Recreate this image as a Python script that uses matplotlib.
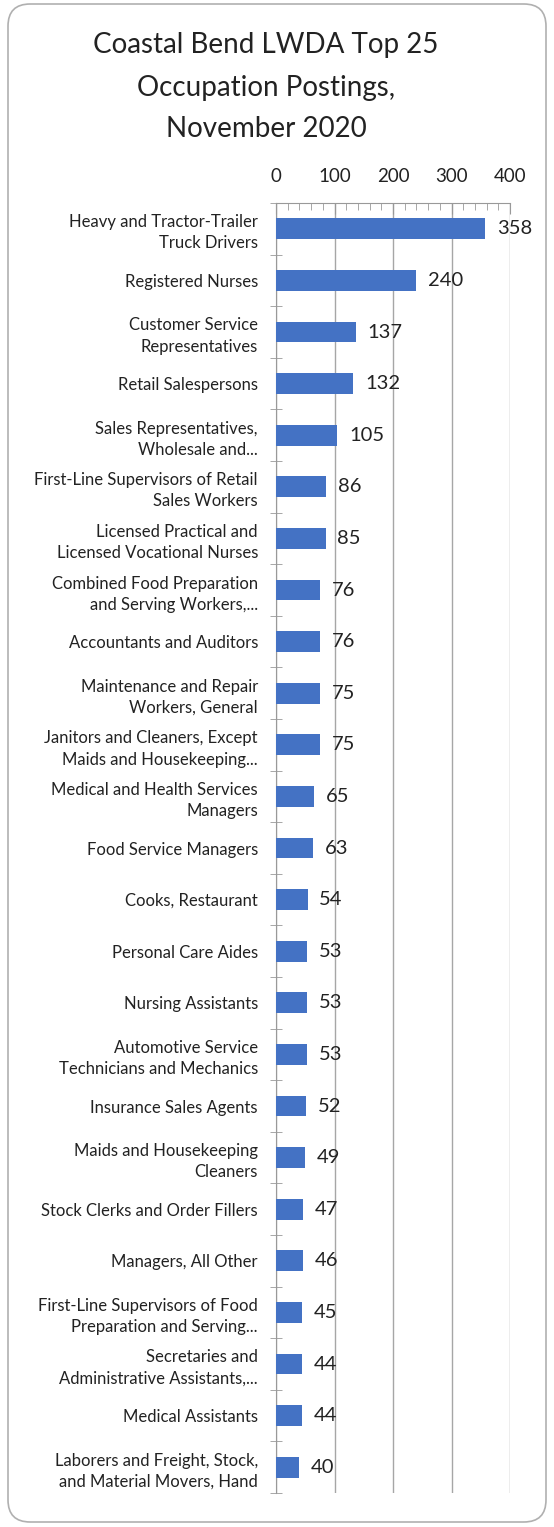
import matplotlib
matplotlib.use("Agg")
import matplotlib.pyplot as plt
from matplotlib.patches import FancyBboxPatch
from matplotlib.ticker import MultipleLocator

plt.rcParams['font.family'] = ['Lato', 'DejaVu Sans']

categories = [
    "Heavy and Tractor-Trailer\nTruck Drivers",
    "Registered Nurses",
    "Customer Service\nRepresentatives",
    "Retail Salespersons",
    "Sales Representatives,\nWholesale and...",
    "First-Line Supervisors of Retail\nSales Workers",
    "Licensed Practical and\nLicensed Vocational Nurses",
    "Combined Food Preparation\nand Serving Workers,...",
    "Accountants and Auditors",
    "Maintenance and Repair\nWorkers, General",
    "Janitors and Cleaners, Except\nMaids and Housekeeping...",
    "Medical and Health Services\nManagers",
    "Food Service Managers",
    "Cooks, Restaurant",
    "Personal Care Aides",
    "Nursing Assistants",
    "Automotive Service\nTechnicians and Mechanics",
    "Insurance Sales Agents",
    "Maids and Housekeeping\nCleaners",
    "Stock Clerks and Order Fillers",
    "Managers, All Other",
    "First-Line Supervisors of Food\nPreparation and Serving...",
    "Secretaries and\nAdministrative Assistants,...",
    "Medical Assistants",
    "Laborers and Freight, Stock,\nand Material Movers, Hand",
]
values = [358, 240, 137, 132, 105, 86, 85, 76, 76, 75, 75, 65, 63, 54, 53, 53, 53, 52, 49, 47, 46, 45, 44, 44, 40]
x_ticks = [0, 100, 200, 300, 400]

W, H = 554, 1527
fig = plt.figure(figsize=(W/100, H/100), dpi=100)

# rounded border
border = FancyBboxPatch((8/W, 5/H), (W-16)/W, (H-9)/H,
                        boxstyle="round,pad=0,rounding_size=0.04",
                        transform=fig.transFigure, fill=False,
                        edgecolor="#b0b0b0", linewidth=1.2,
                        mutation_aspect=W/H)
fig.patches.append(border)

for yy, line in [(45, "Coastal Bend LWDA Top 25"), (88, "Occupation Postings,"), (129, "November 2020")]:
    fig.text(266/W, 1-yy/H, line, ha='center', va='center', fontsize=20, color='#222222')

ax = fig.add_axes([276/W, 1-1493/H, (510-276)/W, (1493-203)/H])
n = len(categories)
ypos = list(range(n))
ax.barh(ypos, values, height=0.4, color='#4472C4', zorder=3)
ax.set_ylim(n-0.5, -0.5)
ax.set_xlim(0, 400)

ax.xaxis.tick_top()
ax.set_xticks(x_ticks)
ax.set_xticklabels([str(t) for t in x_ticks], fontsize=13.5, color='#222222')
ax.xaxis.set_minor_locator(MultipleLocator(20))
ax.tick_params(axis='x', which='major', direction='in', length=8, color='#999999', pad=13, labelcolor='#222222')
ax.tick_params(axis='x', which='minor', direction='in', length=5, color='#999999')
ax.grid(axis='x', color='#a6a6a6', linewidth=1.0, zorder=0)

ax.set_yticks(ypos)
ax.set_yticklabels(categories, fontsize=12, color='#222222', linespacing=1.4)
ax.set_yticks([i + 0.5 for i in range(-1, n)], minor=True)
ax.tick_params(axis='y', which='major', length=0, pad=13)
ax.tick_params(axis='y', which='minor', direction='inout', length=8, color='#999999')

for s in ['right', 'bottom']:
    ax.spines[s].set_visible(False)
ax.spines['left'].set_color('#999999')
ax.spines['top'].set_color('#999999')

for y, v in zip(ypos, values):
    ax.text(v + 20, y, str(v), va='center', ha='left', fontsize=14.5, color='#222222', zorder=4)

fig.savefig("out.png", dpi=100)
